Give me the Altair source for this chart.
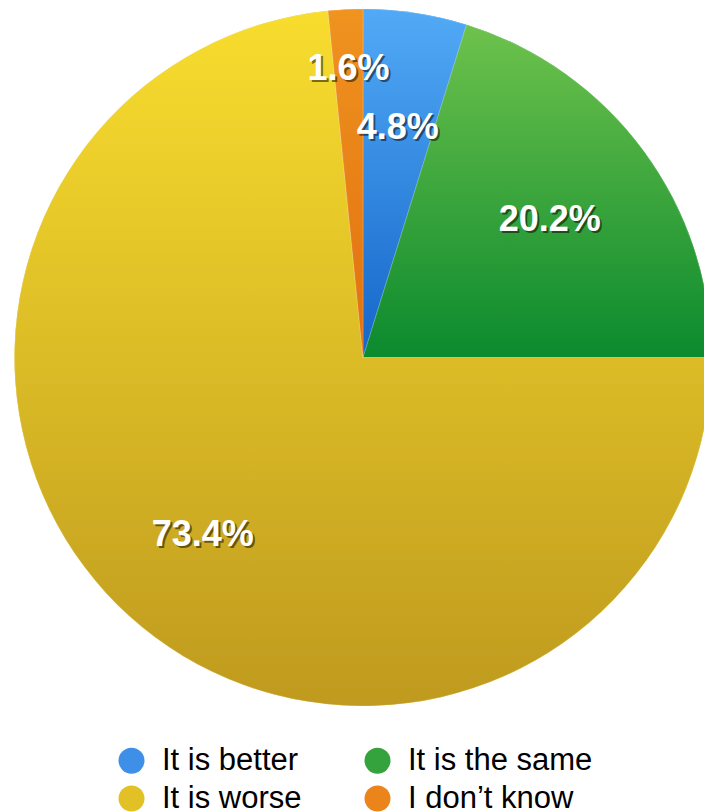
import altair as alt
import pandas as pd

answers = ["It is better", "It is the same", "It is worse", "I don\u2019t know"]
shares = [4.8, 20.2, 73.4, 1.6]
order_idx = [0, 1, 2, 3]

legend_colors = ["#3D8FE8", "#34A23D", "#E2C126", "#EA841B"]

grad = {
    "It is better": ("#52AAF6", "#1466C9"),
    "It is the same": ("#6EC24C", "#0B8A2E"),
    "It is worse": ("#F8DD2E", "#BF9A1E"),
    "I don\u2019t know": ("#F0931F", "#E0700F"),
}

def lin(c0, c1):
    return {"gradient": "linear", "x1": 0, "y1": 0, "x2": 0, "y2": 1,
            "stops": [{"offset": 0, "color": c0}, {"offset": 1, "color": c1}]}

df = pd.DataFrame({"answer": answers, "share": shares, "idx": order_idx})

CX, CY, R = 363, 357.5, 348.5
theta_scale = alt.Scale(domain=[0, 100], range=[0, 6.283185307179586])

base = alt.Chart(df).encode(
    theta=alt.Theta("share:Q", stack=True, scale=theta_scale),
    order=alt.Order("idx:O", sort="ascending"),
)

solid = base.mark_arc(outerRadius=R, strokeWidth=0).encode(
    x=alt.value(CX), y=alt.value(CY),
    color=alt.Color(
        "answer:N",
        scale=alt.Scale(domain=answers, range=legend_colors),
        legend=alt.Legend(
            title=None, orient="none", legendX=116, legendY=745,
            direction="horizontal",
            columns=2, columnPadding=60, rowPadding=6,
            symbolType="circle", symbolSize=676, symbolStrokeWidth=0,
            labelFont="Liberation Sans", labelFontSize=31, labelColor="#000000",
            labelOffset=15, labelLimit=400,
        ),
    ),
)

conds = [{"test": f"datum.answer === '{a}'", "value": lin(*grad[a])} for a in answers[:-1]]
fill_enc = {"condition": conds, "value": lin(*grad[answers[-1]])}

gradient = base.mark_arc(outerRadius=R, stroke="#ffffff", strokeWidth=0.5, strokeOpacity=0.4).encode(
    x=alt.value(CX), y=alt.value(CY),
    fill=fill_enc,
)

text_base = alt.Chart(df).transform_window(
    cum="sum(share)", sort=[alt.SortField("idx", order="ascending")]
).transform_calculate(
    mid="datum.cum - datum.share / 2",
    label="format(datum.share, '.1f') + '%'",
)

def text_layers(filter_expr, radius):
    common = dict(font="Liberation Sans", fontWeight="bold", fontSize=36,
                  baseline="middle", align="center", radius=radius)
    t = text_base.transform_filter(filter_expr).encode(
        theta=alt.Theta("mid:Q", scale=theta_scale, stack=None),
        x=alt.value(CX), y=alt.value(CY),
        text="label:N",
    )
    sh = t.mark_text(dx=2, dy=2, **common).encode(color=alt.value("rgba(0,0,0,0.5)"))
    fg = t.mark_text(**common).encode(color=alt.value("#ffffff"))
    return [sh, fg]

layers = [solid, gradient]
layers += text_layers("datum.answer === 'I don\u2019t know'", 289)
layers += text_layers("datum.answer === 'It is worse'", 239)
layers += text_layers("datum.answer === 'It is better' || datum.answer === 'It is the same'", 232)

chart = alt.layer(*layers).properties(
    width=704, height=812, padding=0,
    autosize=alt.AutoSizeParams(type="none"),
).configure_view(stroke=None)

chart.save("out.html", embed_options={"renderer": "svg", "actions": False})
